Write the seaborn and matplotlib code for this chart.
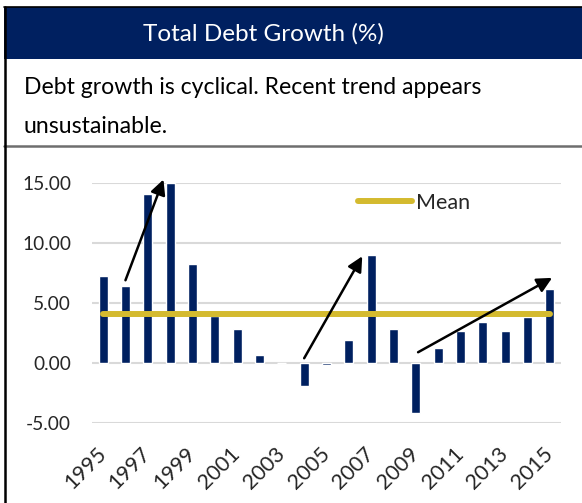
import numpy as np
import pandas as pd
import matplotlib.pyplot as plt
import seaborn as sns
from matplotlib.lines import Line2D

# Dados do grafico
anos = [str(a) for a in range(1995, 2016)]
crescimento = [7.25, 6.4, 14.05, 14.97, 8.25, 3.9, 2.83, 0.64, 0.0, -1.9, -0.15,
               1.9, 9.0, 2.83, -4.2, 1.28, 2.67, 3.42, 2.67, 3.86, 6.14]
media = 4.06
yticks = [-5, 0, 5, 10, 15]

titulo = 'Total Debt Growth (%)'
subtitulo_1 = 'Debt growth is cyclical. Recent trend appears'
subtitulo_2 = 'unsustainable.'

# Setas (inicio -> fim), em coordenadas de dados
setas_inicio = [(1.0, 6.9), (9.0, 0.4), (14.1, 0.9)]
setas_fim = [(2.7, 15.3), (11.6, 8.9), (20.1, 7.1)]

df = pd.DataFrame({'ano': anos, 'crescimento': crescimento})

azul = '#002060'
dourado = '#D4BA2F'

sns.set_style('white')
plt.rcParams['font.family'] = ['Lato', 'DejaVu Sans']

fig = plt.figure(figsize=(5.82, 5.03), dpi=100)

# Cabecalho azul com titulo
fig.patches.append(plt.Rectangle((0.0069, 0.8827), 1.0, 0.1033, transform=fig.transFigure,
                                 facecolor=azul, edgecolor='none'))
fig.lines.append(Line2D([0.0069, 1.0], [0.986, 0.986], transform=fig.transFigure, color='black', lw=1.2))
fig.text(0.452, 0.932, titulo, color='white', fontsize=17.5, ha='center', va='center')

# Subtitulo
fig.text(0.041, 0.827, subtitulo_1, color='black', fontsize=16.6, ha='left', va='center')
fig.text(0.041, 0.748, subtitulo_2, color='black', fontsize=16.6, ha='left', va='center')

# Linhas de borda
fig.lines.append(Line2D([0.0069, 1.0], [0.7097, 0.7097], transform=fig.transFigure, color='#6E6E6E', lw=1.8))
fig.lines.append(Line2D([0.0086, 0.0086], [0.0, 0.986], transform=fig.transFigure, color='black', lw=1.8))

# Grafico de barras
ax = fig.add_axes([0.158, 0.159, 0.806, 0.477])
sns.barplot(data=df, x='ano', y='crescimento', color=azul, width=0.4, saturation=1, ax=ax)

# Linha da media
ax.plot(range(len(anos)), [media] * len(anos), color=dourado, lw=4.3,
        solid_capstyle='round', zorder=3)

# Setas
for (x0, y0), (x1, y1) in zip(setas_inicio, setas_fim):
    ax.annotate('', xy=(x1, y1), xytext=(x0, y0), annotation_clip=False,
                arrowprops=dict(arrowstyle='-|>,head_length=0.9,head_width=0.45',
                                color='black', lw=1.8, shrinkA=0, shrinkB=0), zorder=4)

ax.set_xlim(-0.5, len(anos) - 0.5)
ax.set_ylim(-5, 15)
ax.set_yticks(yticks)
ax.set_yticklabels(['{:.2f}'.format(v) for v in yticks], fontsize=13.8)
ax.set_xticks(range(0, len(anos), 2))
ax.set_xticklabels(anos[::2], rotation=45, ha='right', va='center', rotation_mode='anchor', fontsize=15.5)
ax.tick_params(axis='y', length=0, pad=15)
ax.tick_params(axis='x', length=0, pad=20)
ax.set_xlabel('')
ax.set_ylabel('')
ax.grid(True, axis='y', color='#D9D9D9', lw=1.5)
ax.set_axisbelow(True)
for s in ax.spines.values():
    s.set_visible(False)

# Legenda
leg_handle = Line2D([], [], color=dourado, lw=4.3, solid_capstyle='round')
ax.legend([leg_handle], ['Mean'], loc='center left', bbox_to_anchor=(0.567, 0.917),
          frameon=False, fontsize=15.5, handlelength=2.5, handletextpad=0.2,
          borderpad=0, borderaxespad=0)

plt.savefig('out.png', dpi=100)
